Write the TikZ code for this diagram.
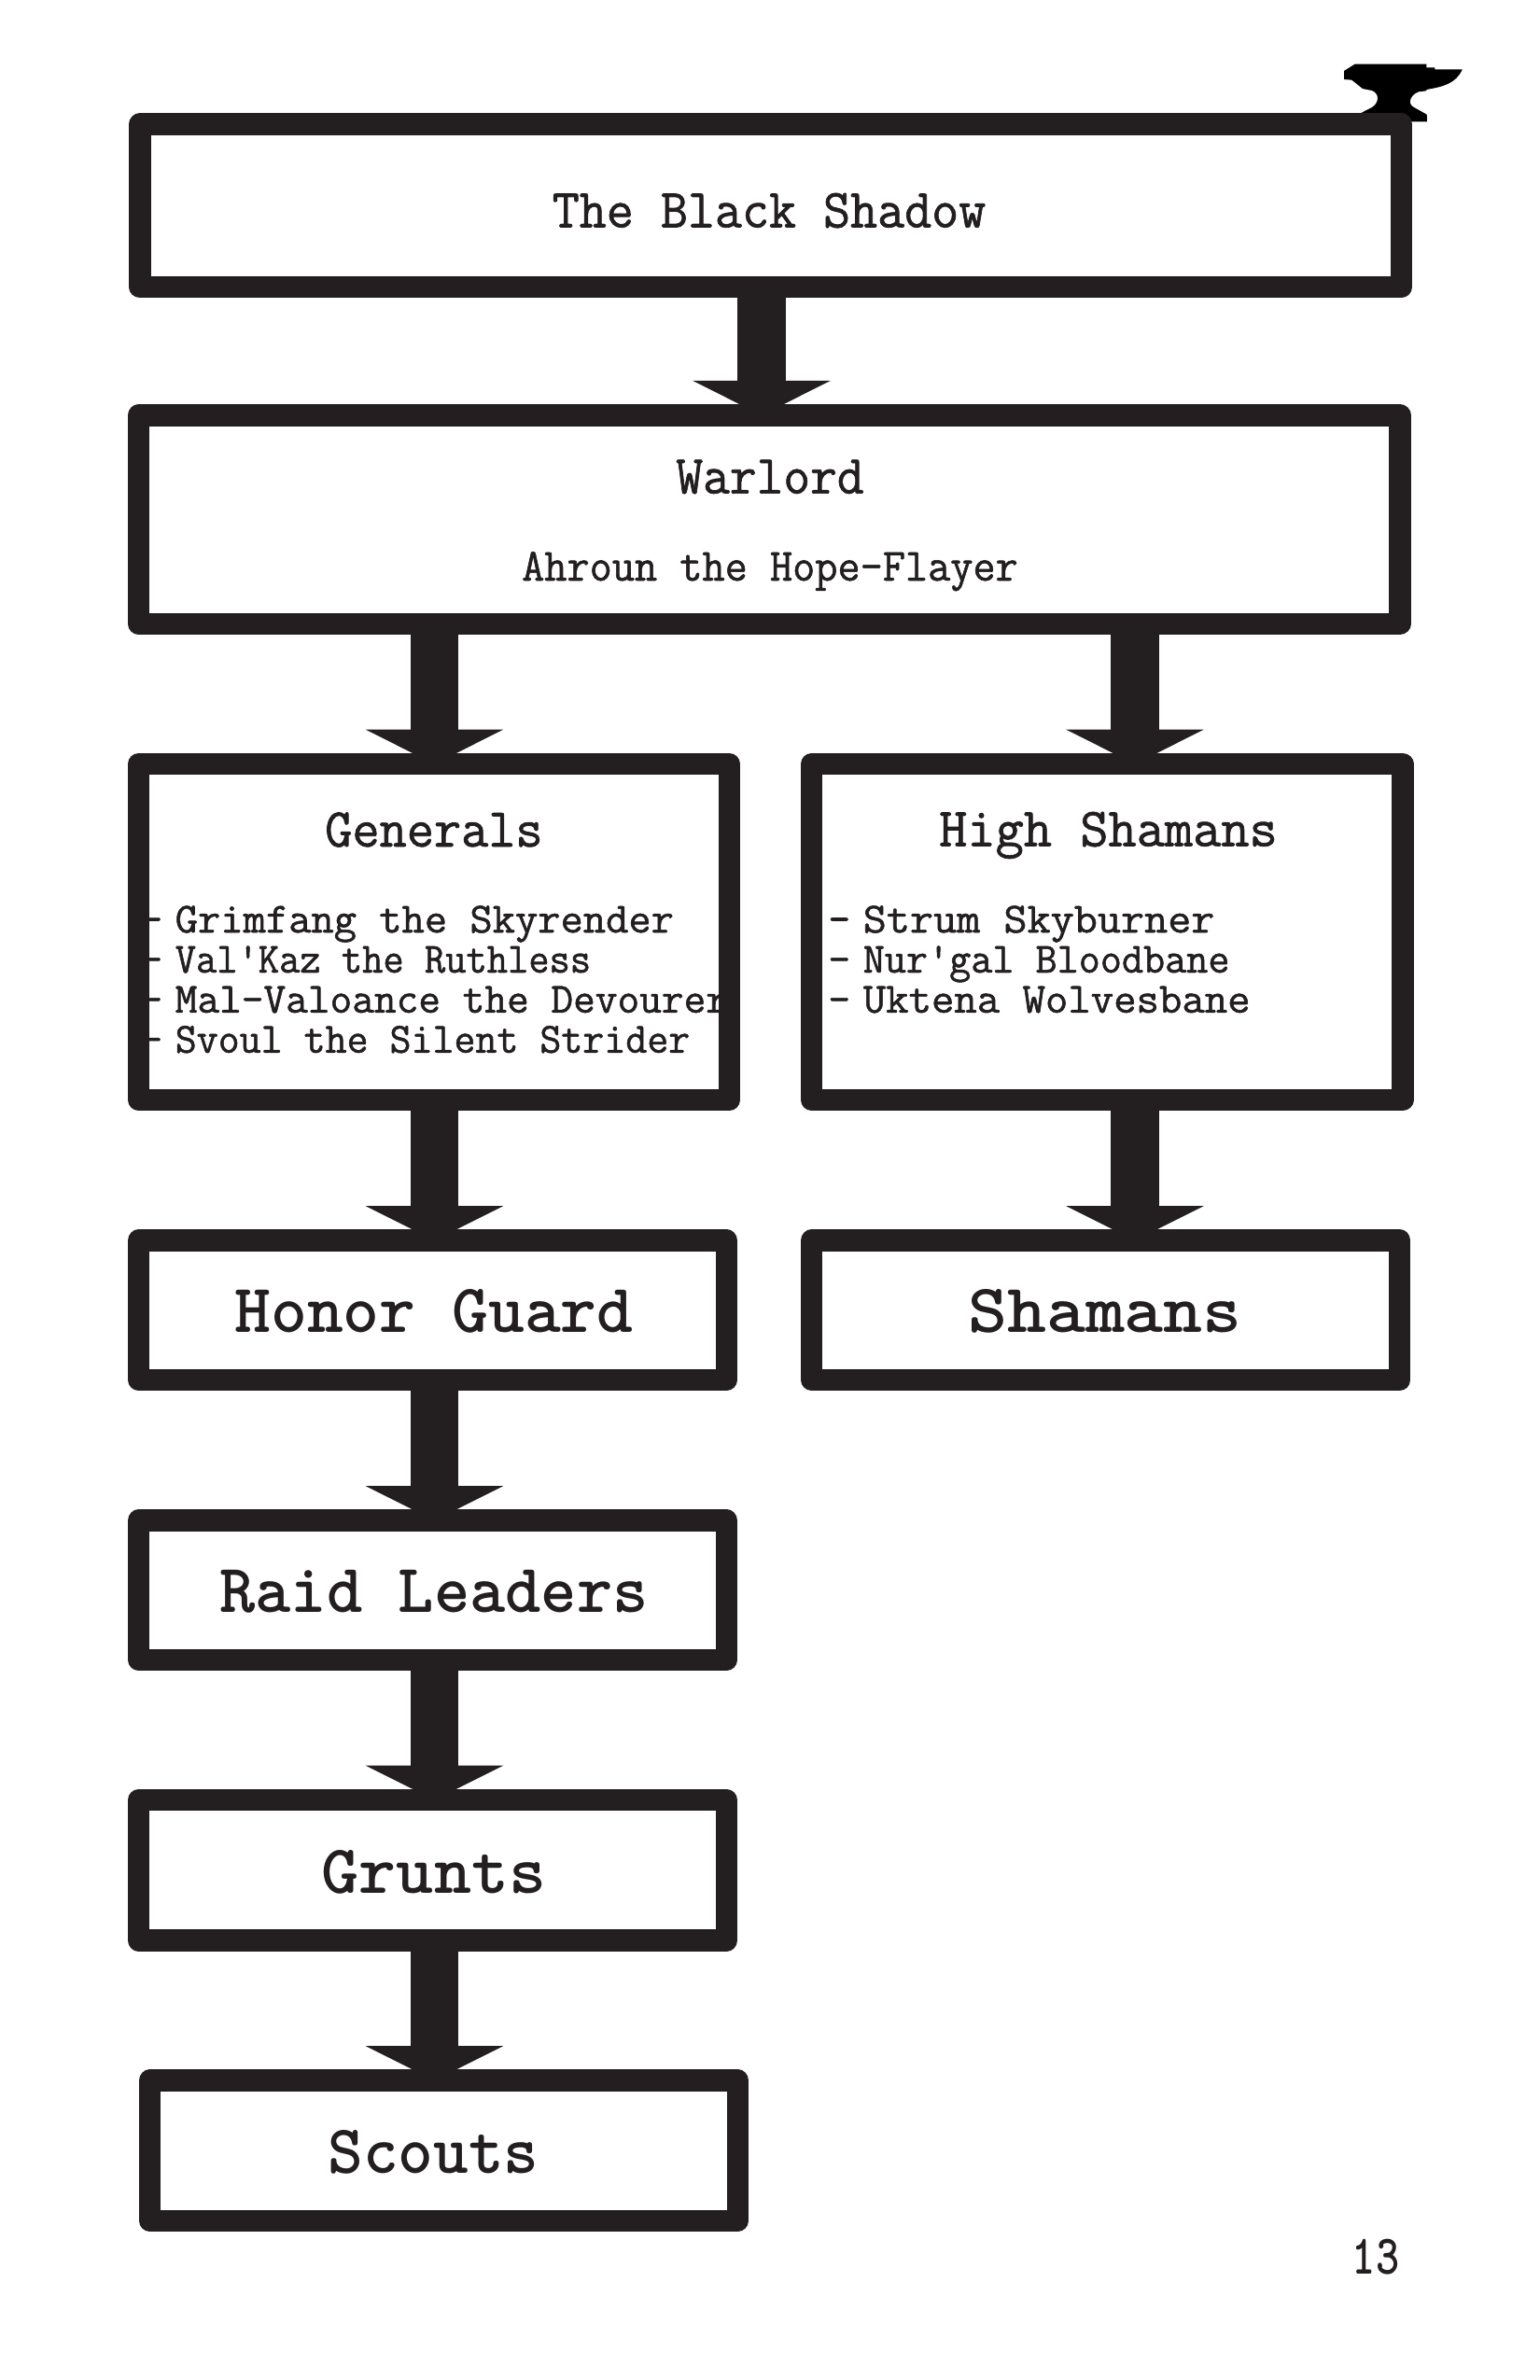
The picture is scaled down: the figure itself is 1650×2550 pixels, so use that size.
\documentclass[tikz,border=0pt]{standalone}
\usepackage{fontspec}
\usetikzlibrary{arrows.meta}
\newfontfamily\typer{Latin Modern Mono}[FakeBold=1.2]
\definecolor{ink}{HTML}{231F20}
\tikzset{
  x=0.5pt,y=-0.5pt,
  frame/.style 2 args={draw=ink,line width=11.7pt,line join=round,inner sep=0pt,outer sep=0pt,
    minimum width=#1*0.5pt,minimum height=#2*0.5pt},
  flow/.style={draw=ink,line width=25.7pt,-{Triangle[length=18.5pt,width=73pt,color=ink]}},
  head/.style={text=ink,inner sep=0pt,anchor=base,font=\typer\fontsize{27.5}{33}\selectfont},
  sub/.style={text=ink,inner sep=0pt,anchor=base,font=\typer\fontsize{23}{28}\selectfont},
  listing/.style={text=ink,inner sep=0pt,align=left,anchor=north west,font=\typer\fontsize{23}{21.45}\selectfont},
  rank/.style={text=ink,inner sep=0pt,anchor=base,font=\ttfamily\bfseries\fontsize{37}{44}\selectfont},
  folio/.style={text=ink,inner sep=0pt,anchor=base,font=\ttfamily\bfseries\fontsize{30}{36}\selectfont},
}
\newcommand{\dashitem}{-\kern-5pt\ }
\newcommand{\tallfit}[2]{\scalebox{#1}[1.07]{#2}}
\newcommand{\widefit}[2]{\scalebox{#1}[1]{#2}}
\begin{document}
\begin{tikzpicture}
\useasboundingbox[fill=white] (0,0) rectangle (1650,2550);
% anvil
\fill[black] (1451.7,68.7) -- (1528.3,68.7) -- (1528.3,72.3) -- (1537.3,72.3) -- (1537.3,74.3) -- (1566.7,74.3)
  .. controls (1560,90) and (1545,93) .. (1528.3,96) -- (1528.3,97.3) -- (1520,98.3)
  .. controls (1510,102) and (1508,112) .. (1515,115)
  -- (1528.7,122.7) -- (1529,130.3) -- (1500,130.3) -- (1458.3,121) -- (1470,115)
  .. controls (1478,110) and (1478,100) .. (1470,97) -- (1460,95) -- (1448.3,85.7) -- (1440,85) -- (1440,76) -- cycle;
% positions of the connectors
\coordinate (topx) at (816,0);
\coordinate (leftx) at (465.5,0);
\coordinate (rightx) at (1216,0);
% text (the frames lie over it and crop what overruns)
\node[head] (tshadow) at (824,243.5) {\tallfit{1.025}{The Black Shadow}};
\node[head] (twarlord) at (825,528.6) {\tallfit{1.015}{Warlord}};
\node[sub] (tahroun) at (825,622) {\tallfit{1.02}{Ahroun the Hope-Flayer}};
\node[head] (tgenerals) at (465,907) {\tallfit{1.03}{Generals}};
\node[listing] (lgenerals) at (150,970) {\dashitem \widefit{1.025}{Grimfang the Skyrender}\\\dashitem \widefit{0.94}{Val\textquotesingle Kaz the Ruthless}\\\dashitem Mal-Valoance the Devourer\\\dashitem \widefit{0.97}{Svoul the Silent Strider}};
\node[head] (thigh) at (1187.5,906.5) {\tallfit{1.067}{High Shamans}};
\node[listing] (lhigh) at (887,970) {\dashitem \widefit{1.06}{Strum Skyburner}\\\dashitem \widefit{0.975}{Nur\textquotesingle gal Bloodbane}\\\dashitem \widefit{1.03}{Uktena Wolvesbane}};
\node[rank] (thonor) at (465,1427.7) {Honor Guard};
\node[rank] (tshamans) at (1184,1427.5) {\widefit{1.08}{Shamans}};
\node[rank] (traid) at (465,1727.8) {\widefit{0.985}{Raid Leaders}};
\node[rank] (tgrunts) at (465,2028) {\widefit{1.03}{Grunts}};
\node[rank] (tscouts) at (464.5,2328) {\widefit{0.97}{Scouts}};
\node[folio] (page) at (1474,2436) {\scalebox{0.8}[1]{13}};
% frames
\node[frame={1351.3}{174.5}] (shadow) at (825.6,220.4) {};
\node[frame={1351.2}{223.3}] (warlord) at (824.3,556.6) {};
\node[frame={632.6}{359.6}] (generals) at (465,998.5) {};
\node[frame={633.2}{359.6}] (high) at (1186.3,998.5) {};
\node[frame={629.6}{149.1}] (honor) at (463.5,1403.7) {};
\node[frame={630}{149.1}] (shamans) at (1184.7,1403.7) {};
\node[frame={629.6}{149.1}] (raid) at (463.5,1703.7) {};
\node[frame={629.6}{150.3}] (grunts) at (463.5,2003.8) {};
\node[frame={629.6}{150.1}] (scouts) at (475.5,2304.2) {};
% connectors
\draw[flow] (shadow.south -| topx) -- (warlord.north -| topx);
\draw[flow] (warlord.south -| leftx) -- (generals.north -| leftx);
\draw[flow] (warlord.south -| rightx) -- (high.north -| rightx);
\draw[flow] (generals.south -| leftx) -- (honor.north -| leftx);
\draw[flow] (high.south -| rightx) -- (shamans.north -| rightx);
\draw[flow] (honor.south -| leftx) -- (raid.north -| leftx);
\draw[flow] (raid.south -| leftx) -- (grunts.north -| leftx);
\draw[flow] (grunts.south -| leftx) -- (scouts.north -| leftx);
\end{tikzpicture}
\end{document}
